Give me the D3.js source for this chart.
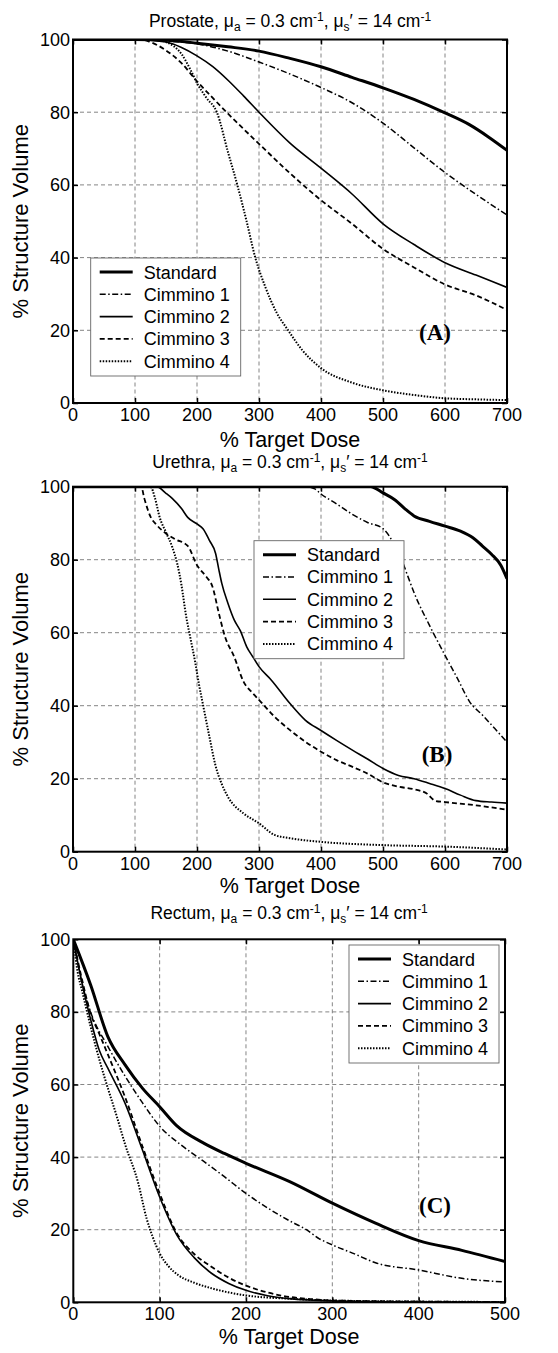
<!DOCTYPE html>
<html>
<head>
<meta charset="utf-8">
<script src="https://cdn.jsdelivr.net/npm/d3@7"></script>
<style>
  body { margin: 0; background: #fff; }
  svg { display: block; font-family: "Liberation Sans", Arial, sans-serif; }
</style>
</head>
<body>
<svg id="chart" width="558" height="1353"></svg>
<script>
// series names (legend order)
var seriesNames = ["Standard", "Cimmino 1", "Cimmino 2", "Cimmino 3", "Cimmino 4"];
var yTicks = [0, 20, 40, 60, 80, 100];
var xTicksWide = [0, 100, 200, 300, 400, 500, 600, 700];
var xTicksRectum = [0, 100, 200, 300, 400, 500];

// (A) prostate, [% target dose, % structure volume]
var prostateStandard = [[0,100],[100,100],[150,99.8],[200,99.0],[250,98.0],[300,96.8],[350,94.8],[400,92.5],[450,89.6],[500,86.7],[550,83.5],[600,79.8],[640,76.5],[670,73.2],[700,69.5]];
var prostateC1 = [[0,100],[100,100],[150,99.6],[200,98.8],[250,96.8],[300,93.8],[350,90.5],[400,86.8],[450,82.6],[500,77],[550,70.2],[600,63.4],[650,57.4],[700,51.7]];
var prostateC2 = [[0,100],[100,100],[150,99.3],[175,97.8],[200,95.5],[225,92.6],[250,88.8],[275,84.5],[300,80],[350,71.5],[400,64.6],[450,57.5],[500,49.3],[550,43.6],[600,38.6],[650,35.2],[700,31.8]];
var prostateC3 = [[0,100],[110,100],[125,99.3],[150,97],[175,93.5],[200,88.5],[225,84],[250,79.6],[275,75.4],[300,71.3],[350,63.2],[400,55.8],[450,49.3],[500,42.4],[550,37.3],[600,32.6],[650,29.6],[700,25.6]];
var prostateC4 = [[0,100],[130,100],[150,99.3],[175,96],[190,91.5],[200,88],[215,84],[232,80],[250,69],[265,60],[280,50],[294,40],[310,32],[328,25],[347,20],[370,14.5],[400,9.6],[450,5.6],[500,3.5],[550,2.2],[600,1.3],[650,1.0],[700,0.8]];

// (B) urethra
var urethraStandard = [[0,100],[480,100],[500,98.3],[520,96.3],[535,94],[550,92],[575,90.5],[600,89.2],[625,87.8],[645,86],[660,83.8],[675,81.5],[690,78.5],[700,74.8]];
var urethraC1 = [[0,100],[375,100],[390,99.4],[400,98],[425,95.3],[450,92.5],[475,90.2],[500,88.5],[510,86.5],[520,83.5],[530,80],[540,75.5],[550,71],[575,62],[600,53.8],[620,47.5],[640,41],[660,37.5],[680,33.8],[700,30]];
var urethraC2 = [[0,100],[135,100],[150,98.2],[160,96.8],[175,94],[185,91.6],[200,89.8],[210,88.4],[220,85.3],[230,81.7],[235,77.5],[240,73.5],[250,68],[260,63.5],[270,60.5],[280,56.2],[290,53.4],[300,50.7],[320,47],[350,40.6],[375,36],[400,33.2],[425,30.5],[450,27.9],[475,25.4],[500,22.8],[525,20.9],[550,20],[575,18.7],[600,17.3],[625,15.5],[650,14],[675,13.6],[700,13.3]];
var urethraC3 = [[0,100],[110,100],[115,96.8],[125,91.8],[135,89.5],[150,87.2],[165,85.6],[185,83.8],[200,78.5],[215,75.3],[225,72.6],[235,65.5],[245,59],[260,53.4],[275,46.6],[290,43.4],[300,41.6],[325,37],[350,33.3],[375,30.1],[400,27.4],[425,25.1],[450,23.3],[475,21.4],[500,19],[525,17.8],[550,17.1],[570,16],[585,13.9],[600,13.6],[650,12.7],[700,11.5]];
var urethraC4 = [[0,100],[125,100],[132,97],[140,91.5],[150,87.5],[160,83.5],[168,79],[175,73],[182,65],[190,58],[197,52],[203,46],[210,40],[220,31.5],[230,23.5],[240,18.5],[250,15],[275,10.5],[300,7.8],[325,4.6],[350,3.7],[400,2.7],[500,1.8],[600,1.4],[700,0.6]];

// (C) rectum
var rectumStandard = [[0,100],[20,87.5],[40,73.2],[60,65.4],[80,59],[100,53.9],[120,48.6],[150,44],[175,41],[200,38.3],[250,33.3],[300,27.3],[350,21.8],[400,17],[450,14.3],[500,11.2]];
var rectumC1 = [[0,100],[10,88],[20,80],[40,70.5],[60,62.3],[80,55],[100,48.5],[125,43.3],[150,39],[175,34.6],[200,30],[225,26],[250,22.5],[270,20],[285,17.5],[300,15.8],[325,13.4],[350,10.9],[400,8.9],[450,6.6],[500,5.6]];
var rectumC2 = [[0,100],[10,88],[20,78],[30,69.5],[40,64.5],[60,54.8],[80,42],[100,29],[120,18.5],[140,12.3],[160,8],[180,5.2],[200,3.3],[225,1.8],[250,1],[300,0.4],[400,0.1],[500,0]];
var rectumC3 = [[0,100],[10,89],[20,79.6],[30,74],[40,68.3],[60,56.5],[80,43],[100,30],[120,19],[140,13.3],[160,9.8],[180,6.8],[200,4.6],[225,2.7],[250,1.5],[275,0.9],[300,0.5],[400,0.2],[500,0.1]];
var rectumC4 = [[0,100],[5,91],[10,86],[20,76],[30,67],[40,59],[50,51.5],[60,43.5],[75,33],[85,23],[92,18],[100,13.5],[110,10],[122,7.4],[140,5.4],[161,3.8],[200,1.9],[250,1],[300,0.5],[400,0.2],[500,0.1]];

var lineStyles = [
    {width: 3, dash: null},
    {width: 1.5, dash: "6,2.5,1.5,2.5"},
    {width: 1.6, dash: null},
    {width: 1.8, dash: "5,3"},
    {width: 2, dash: "1.5,1.5"}
];

var svg = d3.select("#chart");
svg.append("rect").attr("width", 558).attr("height", 1353).attr("fill", "#fff");

var panels = [
    {id: "a", organ: "Prostate", top: 39.5, bottom: 403, left: 73, right: 507, xMax: 700, xTicks: xTicksWide,
     titleY: 26.5, xTitleY: 447, legend: {x: 90.7, y: 258}, label: {x: 435, y: 340, text: "(A)"},
     data: [prostateStandard, prostateC1, prostateC2, prostateC3, prostateC4]},
    {id: "b", organ: "Urethra", top: 486.7, bottom: 851.7, left: 73, right: 507, xMax: 700, xTicks: xTicksWide,
     titleY: 467.5, xTitleY: 893, legend: {x: 254, y: 540.7}, label: {x: 437, y: 762, text: "(B)"},
     data: [urethraStandard, urethraC1, urethraC2, urethraC3, urethraC4]},
    {id: "c", organ: "Rectum", top: 939.3, bottom: 1302.3, left: 73.3, right: 505, xMax: 500, xTicks: xTicksRectum,
     titleY: 918.5, xTitleY: 1344, legend: {x: 349, y: 945}, label: {x: 435, y: 1213, text: "(C)"},
     data: [rectumStandard, rectumC1, rectumC2, rectumC3, rectumC4]}
];

panels.forEach(drawPanel);

function drawPanel(p) {
    var x = d3.scaleLinear().domain([0, p.xMax]).range([p.left, p.right]);
    var y = d3.scaleLinear().domain([0, 100]).range([p.bottom, p.top]);
    var w = p.right - p.left, h = p.bottom - p.top;
    var g = svg.append("g");

    // title with sub/superscripts
    var t = g.append("text").attr("x", (p.left + p.right) / 2).attr("y", p.titleY)
        .attr("text-anchor", "middle").attr("font-size", 17.5);
    t.append("tspan").text(p.organ + ", \u03bc");
    t.append("tspan").attr("font-size", 12).attr("dy", 4).text("a");
    t.append("tspan").attr("dy", -4).text(" = 0.3 cm");
    t.append("tspan").attr("font-size", 12).attr("dy", -6).text("-1");
    t.append("tspan").attr("dy", 6).text(", \u03bc");
    t.append("tspan").attr("font-size", 12).attr("dy", 4).text("s");
    t.append("tspan").attr("dy", -4).text("\u2032 = 14 cm");
    t.append("tspan").attr("font-size", 12).attr("dy", -6).text("-1");

    // grid
    g.append("g").selectAll("line").data(p.xTicks.slice(1, -1)).join("line")
        .attr("x1", d => x(d)).attr("x2", d => x(d)).attr("y1", p.top).attr("y2", p.bottom)
        .attr("stroke", "#777").attr("stroke-width", 0.9).attr("stroke-dasharray", "4,3");
    g.append("g").selectAll("line").data(yTicks.slice(1, -1)).join("line")
        .attr("y1", d => y(d)).attr("y2", d => y(d)).attr("x1", p.left).attr("x2", p.right)
        .attr("stroke", "#777").attr("stroke-width", 0.9).attr("stroke-dasharray", "4,3");

    // curves
    g.append("clipPath").attr("id", "clip-" + p.id).append("rect")
        .attr("x", p.left).attr("y", p.top).attr("width", w).attr("height", h);
    var line = d3.line().x(d => x(d[0])).y(d => y(d[1])).curve(d3.curveMonotoneX);
    var curves = g.append("g").attr("clip-path", "url(#clip-" + p.id + ")");
    p.data.forEach(function (s, i) {
        curves.append("path").datum(s).attr("d", line)
            .attr("fill", "none").attr("stroke", "#000")
            .attr("stroke-width", lineStyles[i].width)
            .attr("stroke-dasharray", lineStyles[i].dash)
            .attr("stroke-linejoin", "round");
    });

    // legend
    var lg = g.append("g").attr("transform", "translate(" + p.legend.x + "," + p.legend.y + ")");
    lg.append("rect").attr("width", 150).attr("height", 118)
        .attr("fill", "#fff").attr("stroke", "#666").attr("stroke-width", 0.9);
    seriesNames.forEach(function (name, i) {
        var ry = 14 + i * 22.3;
        lg.append("line").attr("x1", 9).attr("x2", 42).attr("y1", ry).attr("y2", ry)
            .attr("stroke", "#000").attr("stroke-width", lineStyles[i].width)
            .attr("stroke-dasharray", lineStyles[i].dash);
        lg.append("text").attr("x", 53).attr("y", ry + 6.5).attr("font-size", 18).text(name);
    });

    // inward ticks on all four sides
    g.append("g").attr("transform", "translate(0," + p.bottom + ")")
        .call(d3.axisBottom(x).tickValues(p.xTicks).tickSize(-5).tickFormat(""))
        .call(a => a.select(".domain").remove());
    g.append("g").attr("transform", "translate(0," + p.top + ")")
        .call(d3.axisTop(x).tickValues(p.xTicks).tickSize(-5).tickFormat(""))
        .call(a => a.select(".domain").remove());
    g.append("g").attr("transform", "translate(" + p.left + ",0)")
        .call(d3.axisLeft(y).tickValues(yTicks).tickSize(-5).tickFormat(""))
        .call(a => a.select(".domain").remove());
    g.append("g").attr("transform", "translate(" + p.right + ",0)")
        .call(d3.axisRight(y).tickValues(yTicks).tickSize(-5).tickFormat(""))
        .call(a => a.select(".domain").remove());
    g.selectAll(".tick line").attr("stroke", "#000").attr("stroke-width", 1.5);

    // frame
    g.append("rect").attr("x", p.left).attr("y", p.top).attr("width", w).attr("height", h)
        .attr("fill", "none").attr("stroke", "#000").attr("stroke-width", 2);

    // tick labels
    g.append("g").selectAll("text").data(p.xTicks).join("text")
        .attr("x", d => x(d)).attr("y", p.bottom + 18).attr("text-anchor", "middle")
        .attr("font-size", 18).text(d => d);
    g.append("g").selectAll("text").data(yTicks).join("text")
        .attr("x", p.left - 3).attr("y", d => y(d)).attr("dy", "0.36em").attr("text-anchor", "end")
        .attr("font-size", 18).text(d => d);

    // axis titles
    g.append("text").attr("x", (p.left + p.right) / 2).attr("y", p.xTitleY)
        .attr("text-anchor", "middle").attr("font-size", 21.5).text("% Target Dose");
    g.append("text").attr("transform", "translate(28," + ((p.top + p.bottom) / 2) + ") rotate(-90)")
        .attr("text-anchor", "middle").attr("font-size", 22).text("% Structure Volume");

    // panel label
    g.append("text").attr("x", p.label.x).attr("y", p.label.y).attr("text-anchor", "middle")
        .attr("font-family", "'Liberation Serif', 'Times New Roman', serif")
        .attr("font-weight", "bold").attr("font-size", 23).text(p.label.text);
}
</script>
</body>
</html>
